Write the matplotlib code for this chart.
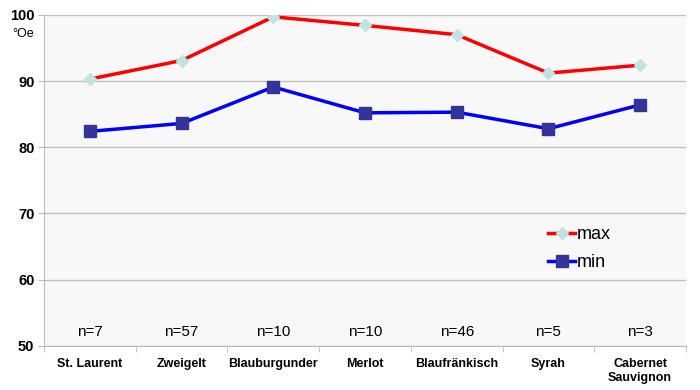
import matplotlib.pyplot as plt
from matplotlib.ticker import FixedLocator

# Rebsorten und Mostgewicht (°Oe)
sorten = ["St. Laurent", "Zweigelt", "Blauburgunder", "Merlot",
          "Blaufränkisch", "Syrah", "Cabernet\nSauvignon"]
max_oe = [90.3, 93.1, 99.7, 98.4, 97.0, 91.2, 92.4]
min_oe = [82.4, 83.6, 89.1, 85.2, 85.3, 82.8, 86.4]
n_proben = [7, 57, 10, 10, 46, 5, 3]
y_ticks = [50, 60, 70, 80, 90, 100]


def main():
    fig = plt.figure(figsize=(7, 3.9), dpi=100)
    ax = fig.add_axes([0.063, 0.113, 0.917, 0.849])
    ax.set_facecolor("#f8f8f8")

    x = list(range(len(sorten)))
    ax.plot(x, max_oe, color="#ff0000", lw=2.5, marker="D", ms=6,
            mfc="#bfe3e3", mec="#bfe3e3", label="max", zorder=3)
    ax.plot(x, min_oe, color="#0000ff", lw=2.5, marker="s", ms=8,
            mfc="#333399", mec="#333399", label="min", zorder=3)

    for xi, n in zip(x, n_proben):
        ax.text(xi, 51, f"n={n}", ha="center", va="bottom", fontsize=11,
                family="Liberation Sans")

    ax.set_xlim(-0.5, len(sorten) - 0.5)
    ax.set_ylim(50, 100)
    ax.set_yticks(y_ticks)
    ax.set_yticklabels([str(v) for v in y_ticks], fontsize=10.5,
                       fontweight="bold", family="Liberation Sans")
    ax.set_xticks(x)
    ax.set_xticklabels(sorten, fontsize=9, fontweight="bold",
                       family="Liberation Sans")
    ax.tick_params(axis="x", length=0, pad=9)
    ax.tick_params(axis="y", length=4, color="#bbbbbb", pad=3)
    ax.xaxis.set_minor_locator(FixedLocator([i + 0.5 for i in range(-1, len(sorten))]))
    ax.tick_params(axis="x", which="minor", length=4, color="#bbbbbb")

    ax.grid(True, axis="y", color="#c0c0c0", lw=1)
    ax.set_axisbelow(True)
    for side in ("top", "right"):
        ax.spines[side].set_visible(False)
    for side in ("left", "bottom"):
        ax.spines[side].set_color("#bbbbbb")

    fig.text(0.018, 0.905, "°Oe", fontsize=9, family="Liberation Sans")

    ax.legend(loc="upper left", bbox_to_anchor=(0.76, 0.41), frameon=False,
              handlelength=1.5, handletextpad=0.1, labelspacing=0.6,
              prop={"family": "Liberation Sans", "size": 13})

    fig.savefig("out.png", dpi=100)


if __name__ == "__main__":
    main()
